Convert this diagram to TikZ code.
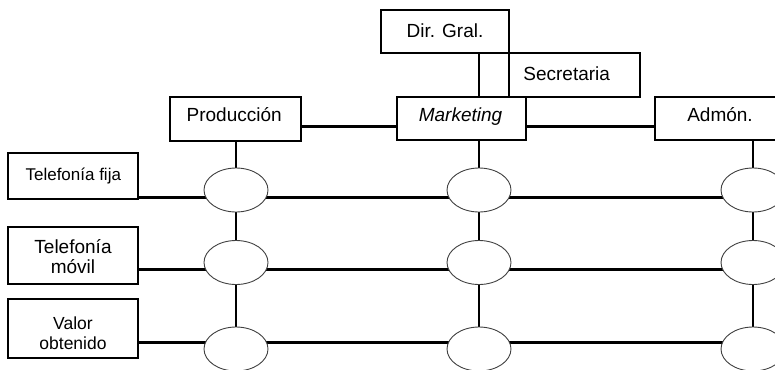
\documentclass[tikz,border=0pt]{standalone}
\usepackage{fontspec}
\setmainfont{Liberation Sans}
\usetikzlibrary{shapes.geometric}
\pgfdeclarelayer{bg}
\pgfsetlayers{bg,main}
\begin{document}
\begin{tikzpicture}[x=1pt,y=-1pt,
  box/.style={draw, line width=1.2pt, inner sep=0pt},
  oval/.style={ellipse, draw=black!75, line width=0.9pt, fill=white, minimum width=64pt, minimum height=44pt, inner sep=0pt},
  conn/.style={line width=2.5pt},
  lbl/.style={inner sep=0pt, font=\fontsize{19}{20}\selectfont},
  lbls/.style={inner sep=0pt, font=\fontsize{17}{20}\selectfont},
  lblm/.style={inner sep=0pt, align=center, font=\fontsize{19}{20}\selectfont},
  lblv/.style={inner sep=0pt, align=center, font=\fontsize{17.5}{20}\selectfont}]
\useasboundingbox (0,0) rectangle (775,369);

% boxes
\node[box, minimum width=128pt, minimum height=43pt] (dir) at (445,31.5) {};
\node[box, minimum width=131pt, minimum height=44pt] (sec) at (574.5,75) {};
\node[box, minimum width=129pt, minimum height=43pt] (mkt) at (461.5,118.5) {};
\node[box, minimum width=131pt, minimum height=44pt] (prod) at (235.5,119) {};
\node[box, minimum width=130pt, minimum height=43pt] (adm) at (720,118.5) {};
\node[box, minimum width=130pt, minimum height=46pt] (tf) at (73,176) {};
\node[box, minimum width=130pt, minimum height=57pt] (tm) at (73,255.5) {};
\node[box, minimum width=130pt, minimum height=59pt] (vo) at (73,328.5) {};

% texts
\node[lbl, anchor=base] (dirt) at (445,37.3) {Dir. Gral.};
\node[lbl, anchor=base] (sect) at (566.7,80) {Secretaria};
\node[lbl, anchor=base] (mktt) at (460.5,121.7) {\itshape Marketing};
\node[lbl, anchor=base] (prodt) at (234.2,121.7) {Producción};
\node[lbl, anchor=base] (admt) at (720,121) {Admón.};
\node[lbls, anchor=base] (tft) at (73.3,180.7) {Telefonía fija};
\node[lblm] (tmt) at (73,257) {Telefonía\\móvil};
\node[lblv] (vot) at (73,333.3) {Valor\\obtenido};

% ellipses
\node[oval] (e11) at (236,190) {};
\node[oval] (e12) at (236,262.5) {};
\node[oval] (e13) at (236,349) {};
\node[oval] (e21) at (479,190) {};
\node[oval] (e22) at (479,262.5) {};
\node[oval] (e23) at (479,349) {};
\node[oval] (e31) at (753,190) {};
\node[oval] (e32) at (753,262.5) {};
\node[oval] (e33) at (753,349) {};

\coordinate (r0) at (0,126.5);
\coordinate (r1) at (0,197.3);
\coordinate (r2) at (0,269.3);
\coordinate (r3) at (0,342.3);

\begin{pgfonlayer}{bg}
% top level
\draw[conn] (prod.east |- r0) -- (mkt.west |- r0);
\draw[conn] (mkt.east |- r0) -- (adm.west |- r0);
\draw[conn] (dir.south -| e21) -- (mkt.north -| e21);
% columns
\draw[conn] (prod.south -| e11) -- (e11.north);
\draw[conn] (e11.south) -- (e12.north);
\draw[conn] (e12.south) -- (e13.north);
\draw[conn] (mkt.south -| e21) -- (e21.north);
\draw[conn] (e21.south) -- (e22.north);
\draw[conn] (e22.south) -- (e23.north);
\draw[conn] (adm.south -| e31) -- (e31.north);
\draw[conn] (e31.south) -- (e32.north);
\draw[conn] (e32.south) -- (e33.north);
% rows
\draw[conn] (tf.east |- r1) -- (e11 |- r1) -- (e21 |- r1) -- (e31 |- r1);
\draw[conn] (tm.east |- r2) -- (e12 |- r2) -- (e22 |- r2) -- (e32 |- r2);
\draw[conn] (vo.east |- r3) -- (e13 |- r3) -- (e23 |- r3) -- (e33 |- r3);
\end{pgfonlayer}
\end{tikzpicture}
\end{document}
